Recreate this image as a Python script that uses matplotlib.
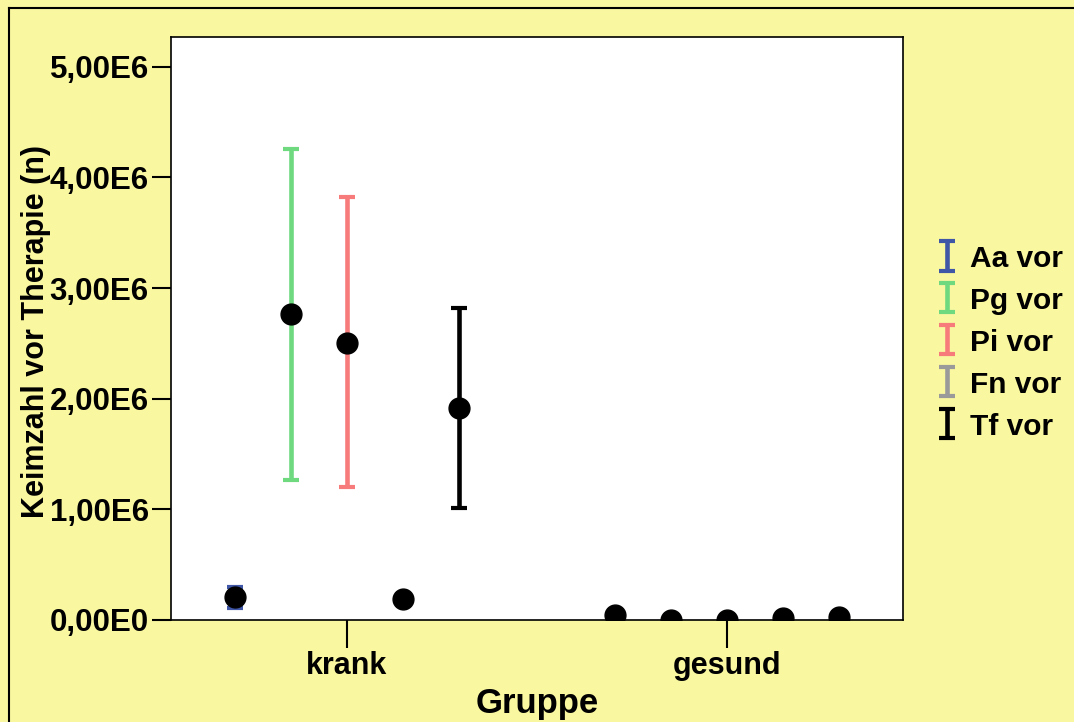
import matplotlib.pyplot as plt
import numpy as np
from matplotlib.lines import Line2D

plt.rcParams['font.family'] = ['Liberation Sans', 'DejaVu Sans']
plt.rcParams['font.weight'] = 'bold'

# data (Keimzahl, mean and error bar ends, in units of 1E6)
groups = ["krank", "gesund"]
series = ["Aa vor", "Pg vor", "Pi vor", "Fn vor", "Tf vor"]
colors = ["#3F57A6", "#6ED97F", "#F77B7B", "#9A9A9A", "#000000"]
krank_mean = [0.21, 2.77, 2.50, 0.19, 1.92]
krank_low = [0.11, 1.27, 1.20, 0.18, 1.01]
krank_high = [0.30, 4.26, 3.82, 0.20, 2.82]
gesund_mean = [0.045, 0.004, 0.003, 0.02, 0.03]

bg = "#F9F7A0"
fig = plt.figure(figsize=(10.74, 7.22), dpi=100, facecolor=bg)
# outer frame (only left and top edges are visible)
fig.lines.append(Line2D([9 / 1074, 9 / 1074], [-0.1, 1 - 8 / 722], transform=fig.transFigure,
                        color="black", linewidth=1.5))
fig.lines.append(Line2D([9 / 1074, 1.1], [1 - 8 / 722, 1 - 8 / 722], transform=fig.transFigure,
                        color="black", linewidth=1.5))

ax = fig.add_axes([171 / 1074, 1 - 620 / 722, (903 - 171) / 1074, (620 - 37) / 722])
ax.set_facecolor("white")

offs = (np.arange(len(series)) - 2) * 0.147
handles = []
for i, name in enumerate(series):
    m = krank_mean[i] * 1e6
    err = [[m - krank_low[i] * 1e6], [krank_high[i] * 1e6 - m]]
    eb = ax.errorbar([0 + offs[i]], [m], yerr=err, fmt="none", ecolor=colors[i],
                     elinewidth=3.3, capsize=5.5, capthick=3, label=name)
    handles.append(eb)

xs = np.concatenate([0 + offs, 1 + offs])
ys = np.array(krank_mean + gesund_mean) * 1e6
ax.plot(xs, ys, "o", color="black", markersize=15, zorder=5)

ax.set_xlim(-0.463, 1.463)
ax.set_ylim(0, 5.27e6)
ax.set_xticks([0, 1])
ax.set_xticklabels(groups)
yt = np.arange(0, 6) * 1e6
ax.set_yticks(yt)
ax.set_yticklabels(["%d,00E%d" % (v, 6 if v else 0) for v in range(6)])
ax.tick_params(axis="y", length=14, width=1.5, labelsize=22.5, pad=2)
ax.tick_params(axis="x", length=20, width=1.5, labelsize=22, pad=2)
for s in ax.spines.values():
    s.set_linewidth(1.2)

ax.set_xlabel("Gruppe", fontsize=25, fontweight="bold", labelpad=5)
ax.set_ylabel("Keimzahl vor Therapie (n)", fontsize=22, fontweight="bold")
ax.yaxis.set_label_coords(-0.164, 0.494)

leg = fig.legend(handles=handles, labels=series, loc="upper left",
                 bbox_to_anchor=(937 / 1074, 1 - 244 / 722), frameon=False,
                 fontsize=21.5, handlelength=0.7, handleheight=0.95, labelspacing=0.43,
                 handletextpad=0.4, borderaxespad=0, borderpad=0)

fig.savefig("out.png", dpi=100, facecolor=bg)
